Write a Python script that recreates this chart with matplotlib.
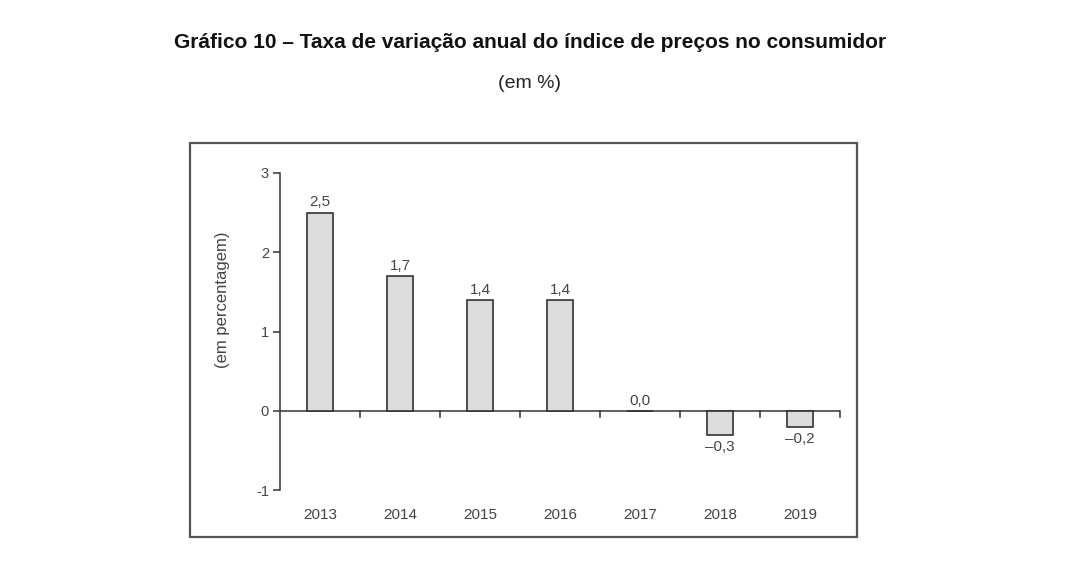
import matplotlib
matplotlib.use("Agg")
import matplotlib.pyplot as plt
from matplotlib.patches import Rectangle

years = ["2013", "2014", "2015", "2016", "2017", "2018", "2019"]
values = [2.5, 1.7, 1.4, 1.4, 0.0, -0.3, -0.2]
value_labels = ["2,5", "1,7", "1,4", "1,4", "0,0", "–0,3", "–0,2"]
yticks = [-1, 0, 1, 2, 3]

plt.rcParams["font.family"] = ["Liberation Sans", "DejaVu Sans"]
grey = "#444444"


def main():
    fig = plt.figure(figsize=(10.8, 5.73), dpi=100)

    fig.text(530 / 1080, 1 - 42 / 573, "Gráfico 10 – Taxa de variação anual do índice de preços no consumidor",
             ha="center", va="center", fontsize=15, fontweight="bold", color="#111111")
    fig.text(530 / 1080, 1 - 84 / 573, "(em %)", ha="center", va="center", fontsize=14, color="#222222")

    # frame around the chart
    fig.patches.append(Rectangle((190 / 1080, 1 - 537 / 573), 667 / 1080, 394 / 573,
                                 transform=fig.transFigure, fill=False,
                                 edgecolor="#555555", linewidth=1.6))

    ax = fig.add_axes([280 / 1080, 1 - 490 / 573, 560 / 1080, 317 / 573])
    x = list(range(len(years)))
    ax.bar(x, values, width=0.33, color="#dcdcdc", edgecolor="#333333", linewidth=1.2, zorder=3)

    for xi, v, lab in zip(x, values, value_labels):
        if v >= 0:
            ax.text(xi, v + 0.04, lab, ha="center", va="bottom", fontsize=11, color=grey)
        else:
            ax.text(xi, v - 0.07, lab, ha="center", va="top", fontsize=11, color=grey)

    ax.set_xlim(-0.5, 6.5)
    ax.set_ylim(-1, 3)
    ax.set_yticks(yticks)
    ax.set_yticklabels([str(t) for t in yticks], fontsize=10.5, color=grey)

    for s in ["top", "right", "bottom"]:
        ax.spines[s].set_visible(False)
    ax.spines["left"].set_color("#333333")
    ax.spines["left"].set_linewidth(1.1)
    ax.tick_params(axis="y", length=5, width=1.1, color="#333333", pad=3)

    # zero line with separators between categories
    ax.axhline(0, color="#333333", linewidth=1.1, zorder=2)
    for xs in [i + 0.5 for i in x]:
        ax.plot([xs, xs], [0, -0.08], color="#333333", linewidth=1.1, clip_on=False)

    ax.set_xticks(x)
    ax.set_xticklabels(years, fontsize=11, color=grey)
    ax.tick_params(axis="x", length=0, pad=13)

    fig.text(222 / 1080, 1 - 300 / 573, "(em percentagem)", rotation=90,
             ha="center", va="center", fontsize=12, color=grey)

    fig.savefig("out.png", dpi=100)
    plt.close(fig)


if __name__ == "__main__":
    main()
